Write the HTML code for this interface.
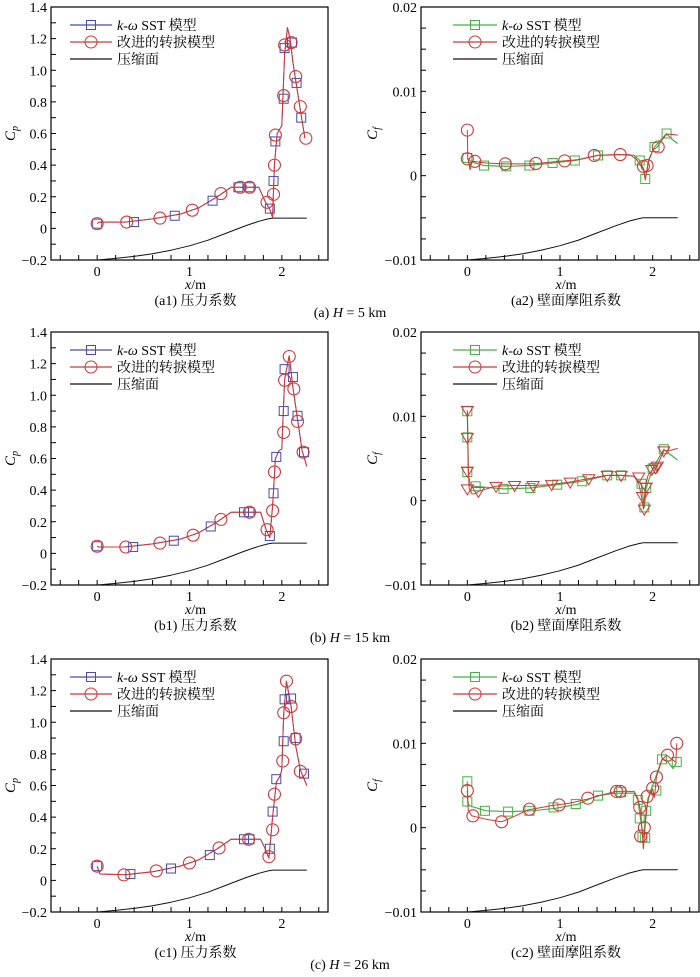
<!DOCTYPE html>
<html><head><meta charset="utf-8"><style>
body{margin:0;background:#fff}
svg{display:block}
text{font-family:"Liberation Serif","Noto Serif CJK SC",serif;fill:#000}
</style></head><body>
<svg id="c" width="700" height="977" viewBox="0 0 700 977"></svg>
<script>
// surface (compression ramp) shape
const surfX=[0,0.2,0.4,0.6,0.8,1.0,1.2,1.4,1.6,1.75,1.85,1.9,2.27];
const surfCp=[-0.2,-0.19,-0.177,-0.16,-0.138,-0.11,-0.075,-0.03,0.015,0.045,0.06,0.065,0.065];
const surfCf=[-10,-9.81,-9.57,-9.25,-8.83,-8.3,-7.64,-6.79,-5.94,-5.38,-5.09,-5,-5];
// Row a Cp
const aCpLineX=[0,0.02,0.3,0.6,0.9,1.1,1.3,1.45,1.6,1.75,1.82,1.87,1.9,1.92,1.95,2.0,2.03,2.06,2.09,2.12,2.16,2.2,2.25];
const aCpLineY=[0.03,0.04,0.04,0.06,0.09,0.13,0.2,0.26,0.26,0.26,0.17,0.12,0.07,0.4,0.6,0.65,1.1,1.27,1.2,1.05,0.9,0.75,0.57];
const aCpRedX=[0,0.32,0.68,1.03,1.34,1.55,1.65,1.84,1.91,1.92,1.93,2.02,2.03,2.1,2.15,2.2,2.26];
const aCpRedY=[0.03,0.04,0.065,0.115,0.22,0.26,0.26,0.165,0.215,0.4,0.59,0.84,1.16,1.175,0.96,0.77,0.57];
const aCpBlueX=[0,0.4,0.84,1.25,1.53,1.65,1.87,1.91,1.93,2.02,2.03,2.11,2.16,2.21];
const aCpBlueY=[0.03,0.04,0.08,0.175,0.26,0.26,0.125,0.30,0.55,0.82,1.14,1.175,0.92,0.7];
// Row b Cp
const bCpLineX=[0,0.02,0.3,0.6,0.9,1.1,1.3,1.45,1.6,1.77,1.83,1.87,1.9,1.93,1.97,2.0,2.03,2.08,2.12,2.17,2.22,2.27];
const bCpLineY=[0.045,0.04,0.04,0.06,0.09,0.13,0.2,0.26,0.26,0.26,0.15,0.1,0.3,0.6,0.65,0.66,1.1,1.25,1.05,0.85,0.65,0.55];
const bCpRedX=[0,0.31,0.68,1.04,1.34,1.65,1.84,1.9,1.92,2.02,2.03,2.08,2.13,2.17,2.23];
const bCpRedY=[0.045,0.04,0.065,0.115,0.215,0.26,0.15,0.27,0.515,0.765,1.095,1.245,1.04,0.835,0.64];
const bCpBlueX=[0,0.39,0.83,1.23,1.59,1.65,1.87,1.91,1.94,2.02,2.03,2.12,2.17,2.24];
const bCpBlueY=[0.045,0.04,0.08,0.17,0.26,0.26,0.11,0.38,0.61,0.9,1.165,1.115,0.87,0.64];
// Row c Cp
const cCpLineX=[0,0.03,0.3,0.6,0.9,1.1,1.3,1.45,1.6,1.77,1.82,1.86,1.9,1.94,1.98,2.0,2.02,2.05,2.1,2.15,2.2,2.27];
const cCpLineY=[0.09,0.04,0.035,0.055,0.09,0.13,0.2,0.26,0.26,0.26,0.2,0.14,0.4,0.62,0.66,0.7,1.05,1.26,1.1,0.85,0.7,0.6];
const cCpRedX=[0,0.29,0.64,1.0,1.32,1.64,1.86,1.9,1.92,2.01,2.02,2.05,2.1,2.15,2.2];
const cCpRedY=[0.09,0.035,0.06,0.11,0.205,0.26,0.15,0.32,0.545,0.755,1.06,1.26,1.10,0.895,0.69];
const cCpBlueX=[0,0.36,0.8,1.22,1.59,1.65,1.87,1.9,1.94,2.02,2.03,2.1,2.15,2.24];
const cCpBlueY=[0.09,0.04,0.075,0.16,0.26,0.26,0.2,0.435,0.64,0.88,1.145,1.15,0.9,0.675];
// Row a Cf (x1e-3)
const aCfRedLX=[0,0.005,0.01,0.03,0.05,0.2,0.4,0.7,1.0,1.2,1.4,1.6,1.75,1.82,1.87,1.9,1.92,1.95,2.0,2.05,2.1,2.15,2.2,2.27];
const aCfRedLY=[5.4,2.0,1.8,0.7,1.7,1.5,1.4,1.4,1.7,1.9,2.4,2.5,2.5,2.0,1.2,0.9,-0.5,1.5,3.0,3.4,4.2,4.9,4.9,4.8];
const aCfRedX=[0,0,0.08,0.41,0.74,1.05,1.37,1.65,1.9,1.94,2.06];
const aCfRedY=[5.4,2.0,1.7,1.4,1.45,1.75,2.4,2.5,1.1,1.2,3.4];
const aCfGrnLX=[0,0.005,0.05,0.18,0.42,0.67,0.92,1.16,1.41,1.65,1.8,1.86,1.9,1.92,1.96,2.02,2.1,2.15,2.2,2.27];
const aCfGrnLY=[2.1,2.0,1.6,1.2,1.1,1.2,1.5,1.8,2.4,2.5,2.4,1.8,0.8,-0.4,2.0,3.4,4.4,5.0,4.4,3.8];
const aCfGrnX=[0,0.18,0.42,0.67,0.92,1.16,1.41,1.86,1.92,2.02,2.15];
const aCfGrnY=[2.1,1.2,1.1,1.2,1.5,1.8,2.4,1.8,-0.4,3.4,5.0];
// Row b Cf
const bCfRedLX=[0,0.005,0.01,0.02,0.05,0.08,0.12,0.3,0.5,0.7,0.9,1.1,1.3,1.5,1.65,1.8,1.85,1.88,1.9,1.92,1.95,2.0,2.05,2.12,2.2,2.27];
const bCfRedLY=[10.7,7.5,3.5,1.4,0.8,0.8,1.1,1.7,1.8,1.8,1.9,2.2,2.6,3.0,3.0,2.9,2.0,0.5,-1.0,1.6,3.0,3.7,4.2,5.9,6.0,6.2];
const bCfRedX=[0,0,0,0,0.12,0.31,0.51,0.71,0.91,1.11,1.31,1.51,1.66,1.85,1.89,1.91,1.93,1.99,2.03,2.05,2.12];
const bCfRedY=[10.7,7.5,3.5,1.4,1.1,1.7,1.8,1.8,1.9,2.2,2.6,3.0,3.0,2.8,0.5,-1.0,1.6,3.7,3.9,4.1,5.9];
const bCfGrnLX=[0,0.005,0.01,0.03,0.09,0.39,0.68,0.97,1.24,1.51,1.66,1.8,1.88,1.91,1.93,2.0,2.12,2.2,2.27];
const bCfGrnLY=[10.6,7.5,3.4,1.8,1.7,1.4,1.5,1.9,2.3,3.0,3.0,2.9,2.0,-0.8,1.5,3.8,6.1,5.4,4.8];
const bCfGrnX=[0,0,0,0.09,0.39,0.68,0.97,1.24,1.51,1.66,1.88,1.91,1.93,2.0,2.12];
const bCfGrnY=[10.6,7.5,3.4,1.7,1.4,1.5,1.9,2.3,3.0,3.0,2.0,-0.8,1.5,3.8,6.1];
// Row c Cf
const cCfRedLX=[0,0.005,0.01,0.05,0.2,0.37,0.5,0.65,0.9,1.1,1.3,1.5,1.6,1.8,1.84,1.87,1.89,1.9,1.92,1.95,2.0,2.02,2.04,2.1,2.15,2.22,2.25,2.26];
const cCfRedLY=[4.4,3.0,2.0,1.4,1.0,0.7,1.3,2.1,2.6,2.9,3.4,4.0,4.3,4.3,3.5,2.0,-1.0,-2.5,0.5,3.5,4.6,3.6,6.0,8.0,8.6,8.0,7.8,10.0];
const cCfRedX=[0,0.06,0.37,0.67,0.99,1.3,1.61,1.65,1.86,1.87,1.91,1.94,2.0,2.04,2.16,2.26];
const cCfRedY=[4.4,1.4,0.7,2.2,2.7,3.5,4.3,4.3,2.4,-1.0,0.0,3.7,4.7,6.0,8.6,10.0];
const cCfGrnLX=[0,0.005,0.02,0.2,0.45,0.7,0.95,1.2,1.4,1.6,1.8,1.84,1.87,1.9,1.93,1.97,2.0,2.1,2.15,2.22,2.26];
const cCfGrnLY=[5.5,3.1,2.6,2.0,1.9,2.0,2.3,2.8,3.8,4.1,4.1,3.3,1.0,-1.2,2.0,4.2,5.0,8.1,8.0,7.0,7.8];
const cCfGrnX=[0,0,0.19,0.44,0.67,0.93,1.17,1.41,1.66,1.84,1.86,1.89,1.92,1.93,2.04,2.1,2.26];
const cCfGrnY=[5.5,3.1,2.0,1.9,2.0,2.4,2.8,3.8,4.2,3.3,1.1,-1.1,-1.2,2.0,4.4,8.1,7.8];
const xTicks=["0","1","2"];
const cpTicks=["-0.2","0","0.2","0.4","0.6","0.8","1.0","1.2","1.4"];
const cfTicks=["-0.01","0","0.01","0.02"];

const NS="http://www.w3.org/2000/svg";
const svg=document.getElementById('c');
function el(tag,attrs,parent){const e=document.createElementNS(NS,tag);for(const k in attrs)e.setAttribute(k,attrs[k]);(parent||svg).appendChild(e);return e;}
const RED="#d03838",BLUE="#4a4aa8",GRN="#46b046";
const tops=[7,332,659];const H=253;
const rowCap=["(a) ","(b) ","(c) "],rowH=["5","15","26"];

function panel(r,type){
  const left=type==='cp'?51:421, right=type==='cp'?328:699;
  const top=tops[r], bot=top+H;
  const x0=left+(0.5/3)*(right-left);
  const sx=v=>x0+v*(right-left)/3;
  const ymin=type==='cp'?-0.2:-10, ymax=type==='cp'?1.4:20;
  const sy=v=>bot-(v-ymin)/(ymax-ymin)*H;
  const g=el('g',{});
  
  
  for(let i=0;i<=15;i++){const xv=-0.4+i*0.2;const X=sx(xv);if(X>right-1)continue;el('line',{x1:X,x2:X,y1:bot,y2:bot-5,stroke:'#000','stroke-width':1},g);}
  const nT=type==='cp'?16:12;
  for(let i=1;i<nT;i++){const Y=bot-i*H/nT;el('line',{x1:left,x2:left+5,y1:Y,y2:Y,stroke:'#000','stroke-width':1},g);}
  el('rect',{x:left,y:top,width:right-left,height:H,fill:'none',stroke:'#000','stroke-width':1.2},g);
  xTicks.forEach((t,i)=>{const tt=el('text',{x:sx(i),y:bot+16,'font-size':14,'text-anchor':'middle'},g);tt.textContent=t;});
  const yl=type==='cp'?cpTicks:cfTicks;
  yl.forEach(t=>{const v=parseFloat(t)*(type==='cp'?1:1000);const tt=el('text',{x:left-4,y:sy(v)+5,'font-size':14,'text-anchor':'end'},g);tt.textContent=t.replace('-','\u2212');});
  const cx=(left+right)/2+6;
  const xt=el('text',{x:cx,y:bot+29,'font-size':14,'text-anchor':'middle'},g);
  xt.innerHTML='<tspan font-style="italic">x</tspan>/m';
  
  const cap=el('text',{x:cx,y:bot+45,'font-size':14,'text-anchor':'middle'},g);
  cap.textContent='('+'abc'[r]+(type==='cp'?'1) 压力系数':'2) 壁面摩阻系数');
  
  const yt=el('text',{x:0,y:0,'font-size':15,'font-style':'italic','text-anchor':'middle',transform:`translate(${left-(type==='cp'?36:44)},${top+H/2}) rotate(-90)`},g);
  yt.innerHTML='C<tspan font-size="10" dy="3">'+(type==='cp'?'p':'f')+'</tspan>';
  
  function line(xs,ys,col,name,w){const d=xs.map((x,i)=>(i?'L':'M')+sx(x).toFixed(1)+','+sy(ys[i]).toFixed(1)).join('');const p=el('path',{d:d,fill:'none',stroke:col,'stroke-width':w||1,'stroke-linejoin':'round'},g);}
  function marks(xs,ys,kind,col,name){xs.forEach((x,i)=>{const X=sx(x),Y=sy(ys[i]);let m;
    if(kind==='sq')m=el('rect',{x:X-4.5,y:Y-4.5,width:9,height:9,fill:'none',stroke:col,'stroke-width':1},g);
    else if(kind==='tri')m=el('path',{d:`M${X-6},${Y-4}L${X+6},${Y-4}L${X},${Y+6}Z`,fill:'none',stroke:col,'stroke-width':1},g);
    else m=el('circle',{cx:X,cy:Y,r:6,fill:'none',stroke:col,'stroke-width':1.1},g);
    });}
  const p='abc'[r];
  if(type==='cp'){
    const D={a:[aCpLineX,aCpLineY,aCpRedX,aCpRedY,aCpBlueX,aCpBlueY],b:[bCpLineX,bCpLineY,bCpRedX,bCpRedY,bCpBlueX,bCpBlueY],c:[cCpLineX,cCpLineY,cCpRedX,cCpRedY,cCpBlueX,cCpBlueY]}[p];
    line(surfX,surfCp,'#111','surface-line');
    line(D[0],D[1],BLUE,'sst-line',1);
    line(D[0],D[1],RED,'improved-line',1);
    marks(D[4],D[5],'sq',BLUE,'sst-marker');
    marks(D[2],D[3],'ci',RED,'improved-marker');
  } else {
    const D={a:[aCfRedLX,aCfRedLY,aCfRedX,aCfRedY,aCfGrnLX,aCfGrnLY,aCfGrnX,aCfGrnY],b:[bCfRedLX,bCfRedLY,bCfRedX,bCfRedY,bCfGrnLX,bCfGrnLY,bCfGrnX,bCfGrnY],c:[cCfRedLX,cCfRedLY,cCfRedX,cCfRedY,cCfGrnLX,cCfGrnLY,cCfGrnX,cCfGrnY]}[p];
    line(surfX,surfCf,'#111','surface-line');
    line(D[4],D[5],GRN,'sst-line',1.2);
    marks(D[6],D[7],'sq',GRN,'sst-marker');
    line(D[0],D[1],RED,'improved-line',1);
    marks(D[2],D[3],p==='b'?'tri':'ci',RED,'improved-marker');
  }
  const lx1=type==='cp'?70:453, lx2=type==='cp'?112:497;
  const lg=el('g',{},g);
  const names=['<tspan font-style="italic">k</tspan>-<tspan font-style="italic">ω</tspan> SST 模型','改进的转捩模型','压缩面'];
  const cols=[type==='cp'?BLUE:GRN,RED,'#111'];
  names.forEach((n,i)=>{const Y=top+18+i*17;const mx=(lx1+lx2)/2;
    el('line',{x1:lx1,x2:lx2,y1:Y,y2:Y,stroke:cols[i],'stroke-width':1.2},lg);
    if(i===0)el('rect',{x:mx-4.5,y:Y-4.5,width:9,height:9,fill:'none',stroke:cols[i]},lg);
    if(i===1)el('circle',{cx:mx,cy:Y,r:6,fill:'none',stroke:cols[i]},lg);
    const t=el('text',{x:lx2+5,y:Y+5,'font-size':14},lg);t.innerHTML=n;
    });
  if(type==='cf'){const rc=el('text',{x:350,y:bot+57,'font-size':14,'text-anchor':'middle'});
    rc.innerHTML=rowCap[r]+'<tspan font-style="italic">H</tspan> = '+rowH[r]+' km';
    }
}
for(let r=0;r<3;r++){panel(r,'cp');panel(r,'cf');}
</script>
</body></html>
